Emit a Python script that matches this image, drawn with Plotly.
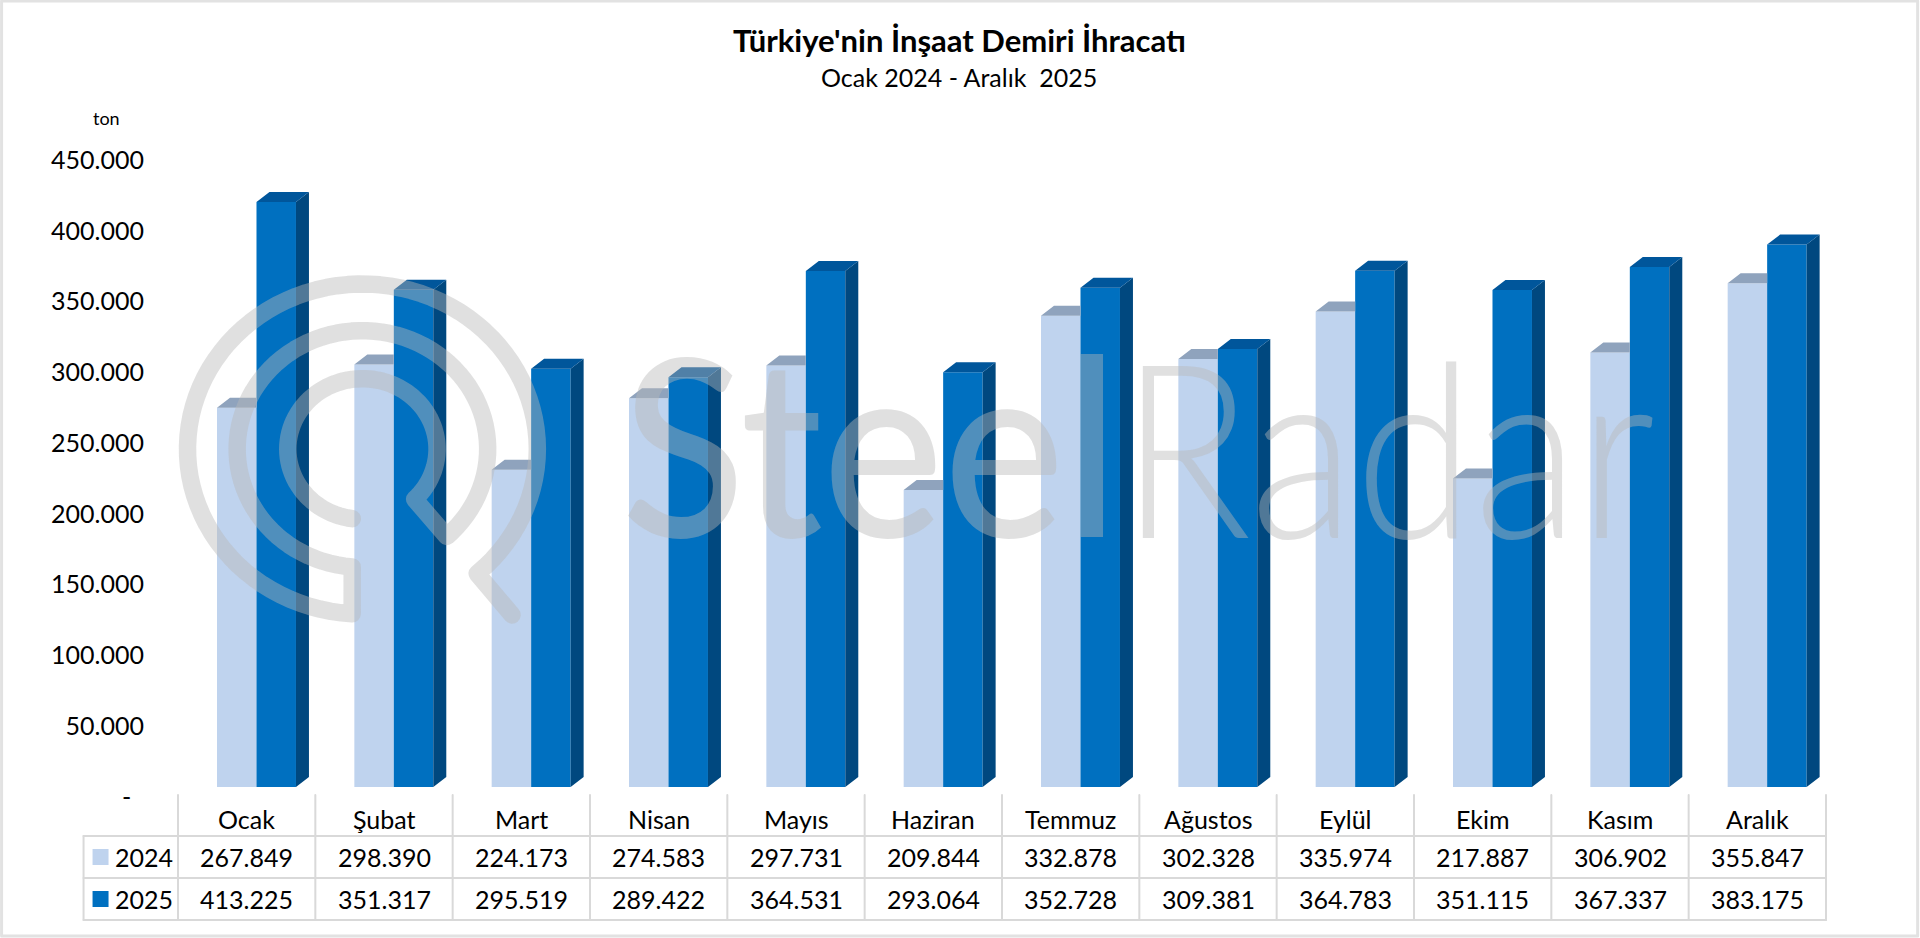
import math
import plotly.graph_objects as go

months = ["Ocak", "Şubat", "Mart", "Nisan", "Mayıs", "Haziran", "Temmuz", "Ağustos", "Eylül", "Ekim", "Kasım", "Aralık"]
values_2024 = [267849, 298390, 224173, 274583, 297731, 209844, 332878, 302328, 335974, 217887, 306902, 355847]
values_2025 = [413225, 351317, 295519, 289422, 364531, 293064, 352728, 309381, 364783, 351115, 367337, 383175]
tick_vals = [0, 50000, 100000, 150000, 200000, 250000, 300000, 350000, 400000, 450000]
tick_text = ["-\u00a0\u00a0", "50.000", "100.000", "150.000", "200.000", "250.000", "300.000", "350.000", "400.000", "450.000"]

FONT = "Lato"
LIGHT, BLUE = "#bfd3ee", "#0070c0"
LIGHT_TOP, BLUE_TOP, BLUE_SIDE = "#8fa3bd", "#00569b", "#00487f"
GRID = "#d9d9d9"
MARK = "rgba(184,184,184,0.435)"

# plot area in page pixels
LEFT, RIGHT, TOP, BOTTOM = 177.5, 1826.3, 150, 787
BAR_W = 0.2875
OFF_24, OFF_25 = -0.216, 0.0715
DX, DY = 0.0946, 7064  # depth of the fake 3d, in axis units


def px(x):
    return (x - LEFT) / (RIGHT - LEFT)


def py(y):
    return (BOTTOM - y) / (BOTTOM - TOP)


def polygons(corners):
    xs, ys = [], []
    for c in corners:
        xs += [p[0] for p in c] + [c[0][0], None]
        ys += [p[1] for p in c] + [c[0][1], None]
    return xs, ys


def face(corners, color):
    xs, ys = polygons(corners)
    return go.Scatter(x=xs, y=ys, mode="lines", fill="toself", fillcolor=color, line=dict(width=0),
                      hoverinfo="skip", showlegend=False, cliponaxis=False)


fig = go.Figure()
xs = list(range(len(months)))
fig.add_trace(go.Bar(x=xs, y=values_2024, width=BAR_W, offset=OFF_24, marker=dict(color=LIGHT, line_width=0), name="2024"))
fig.add_trace(go.Bar(x=xs, y=values_2025, width=BAR_W, offset=OFF_25, marker=dict(color=BLUE, line_width=0), name="2025"))

tops_24, tops_25, sides_25 = [], [], []
for i in xs:
    v = values_2024[i]
    l, r = i + OFF_24, i + OFF_24 + BAR_W
    tops_24.append([(l, v), (l + DX, v + DY), (r, v + DY), (r, v)])
    v = values_2025[i]
    l, r = i + OFF_25, i + OFF_25 + BAR_W
    tops_25.append([(l, v), (l + DX, v + DY), (r + DX, v + DY), (r, v)])
    sides_25.append([(r, 0), (r + DX, DY), (r + DX, v + DY), (r, v)])
fig.add_trace(face(tops_24, LIGHT_TOP))
fig.add_trace(face(sides_25, BLUE_SIDE))
fig.add_trace(face(tops_25, BLUE_TOP))

shapes = []
annots = []


def line(x0, y0, x1, y1):
    shapes.append(dict(type="line", xref="paper", yref="paper", x0=px(x0), y0=py(y0), x1=px(x1), y1=py(y1),
                       line=dict(color=GRID, width=2), layer="below"))


def label(text, x, y, size=25, xref="paper", color="black", bold=False):
    annots.append(dict(text=text, x=x, y=py(y), xref=xref, yref="paper", showarrow=False,
                       xanchor="center", yanchor="middle",
                       font=dict(family=FONT, size=size, color=color, weight=700 if bold else 400)))


# outer frame
shapes.append(dict(type="rect", xref="paper", yref="paper", x0=px(1), y0=py(1), x1=px(1918), y1=py(936),
                   line=dict(color="#e2e2e2", width=3), layer="below"))

# data table under the bars
cell = (RIGHT - LEFT) / len(months)
for i in range(len(months) + 1):
    line(LEFT + i * cell, 795, LEFT + i * cell, 920)
line(83, 836, 83, 920)
for y in [836, 878, 920]:
    line(83, y, RIGHT, y)
for i in xs:
    label(months[i], i, 819, xref="x")
    label(f"{values_2024[i]:,}".replace(",", "."), i, 857, xref="x")
    label(f"{values_2025[i]:,}".replace(",", "."), i, 899, xref="x")
for year, y, color in [("2024", 857, LIGHT), ("2025", 899, BLUE)]:
    label(year, px(143), y)
    shapes.append(dict(type="rect", xref="paper", yref="paper", x0=px(92), x1=px(108), y0=py(y - 8), y1=py(y + 8),
                       fillcolor=color, line_width=0))

label("Türkiye'nin İnşaat Demiri İhracatı", px(959), 40, size=31, bold=True)
label("Ocak 2024 - Aralık  2025", px(959), 77, size=25)
label("ton", px(106), 118, size=18)


# watermark, traced in page pixels
def arc(cx, cy, rx, ry, a0, a1, n=90):
    pts = []
    for k in range(n + 1):
        a = math.radians(a0 + (a1 - a0) * k / n)
        pts.append((cx + rx * math.cos(a), cy + ry * math.sin(a)))
    return pts


def ang(cx, cy, rx, ry, x, y):
    return math.degrees(math.atan2((y - cy) / ry, (x - cx) / rx))


CX, CY = 160 + 606 / 3, 260 + 567 / 3
z = lambda a, b: (160 + a / 3, 260 + b / 3)
p_in, p_knee, p_mid, p_low, p_bot, p_out, p_tail = z(575, 780), z(762, 717), z(860, 830), z(575, 925), z(575, 1065), z(950, 940), z(1055, 1065)
RS = {"in": (224 / 3, 211 / 3), "mid": (376 / 3, 355 / 3), "out": (525 / 3, 495 / 3)}

a_in = ang(CX, CY, *RS["in"], *p_in)
a_knee = ang(CX, CY, *RS["in"], *p_knee)
a_mid = ang(CX, CY, *RS["mid"], *p_mid)
a_low = ang(CX, CY, *RS["mid"], *p_low)
a_bot = ang(CX, CY, *RS["out"], *p_bot)
a_out = ang(CX, CY, *RS["out"], *p_out)

pts = arc(CX, CY, *RS["in"], a_in, a_knee + 360)
pts += arc(CX, CY, *RS["mid"], a_mid, a_low - 360)
pts += arc(CX, CY, *RS["out"], a_bot, a_out + 360)
pts.append(p_tail)
path = "M " + " L ".join(f"{px(x):.5f},{py(y):.5f}" for x, y in pts)
shapes.append(dict(type="path", xref="paper", yref="paper", path=path, line=dict(color=MARK, width=17.5), layer="above"))

annots.append(dict(text="Steel", x=px(870), y=py(536), xref="paper", yref="paper", showarrow=False,
                   xanchor="center", yanchor="bottom", yshift=-56,
                   font=dict(family=FONT, size=248, color=MARK, weight=500)))
annots.append(dict(text="Radar", x=px(1388), y=py(536), xref="paper", yref="paper", showarrow=False,
                   xanchor="center", yanchor="bottom", yshift=-56,
                   font=dict(family=FONT, size=244, color=MARK, weight=300)))

fig.update_layout(
    width=1920, height=938, barmode="overlay", showlegend=False,
    paper_bgcolor="white", plot_bgcolor="white",
    margin=dict(l=LEFT, r=1920 - RIGHT, t=TOP, b=938 - BOTTOM, autoexpand=False),
    xaxis=dict(visible=False, range=[-0.5, 11.5]),
    yaxis=dict(range=[0, 450000], tickmode="array", tickvals=tick_vals, ticktext=tick_text,
               showgrid=False, zeroline=False, showline=False, ticks="", automargin=False,
               ticklabelstandoff=33, ticklabelshift=10,
               tickfont=dict(family=FONT, size=25, color="black")),
    shapes=shapes, annotations=annots,
)

# squeeze the watermark words to the reference width, round the logo stroke ends
post = """
document.body.style.margin = '0';
var st = document.createElement('style');
st.textContent = '.shapelayer path{stroke-linecap:round;stroke-linejoin:round}';
document.head.appendChild(st);
document.querySelectorAll('.annotation-text').forEach(function (t) {
  var w = {'Steel': 498, 'Radar': 535}[t.textContent];
  if (w) { t.setAttribute('textLength', w); t.setAttribute('lengthAdjust', 'spacingAndGlyphs'); }
});
"""
fig.write_html("out.html", post_script=post, config=dict(displayModeBar=False))
